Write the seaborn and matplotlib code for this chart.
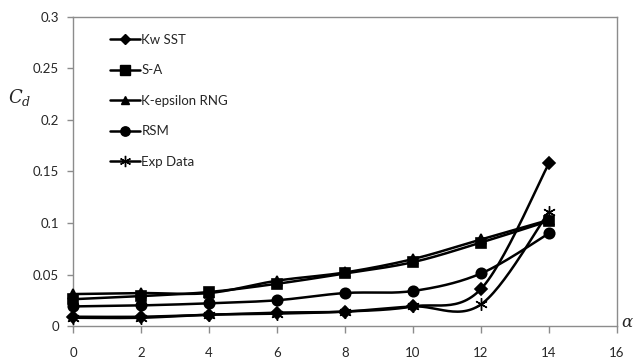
import numpy as np
import pandas as pd
import matplotlib
matplotlib.use("Agg")
import matplotlib.pyplot as plt
import seaborn as sns
from matplotlib.ticker import FuncFormatter, MultipleLocator

# Drag coefficient vs. position for each turbulence model and experiment
x_vals = [0, 2, 4, 6, 8, 10, 12, 14]
kw_sst = [0.009, 0.009, 0.011, 0.013, 0.014, 0.019, 0.036, 0.158]
s_a = [0.026, 0.029, 0.033, 0.041, 0.051, 0.062, 0.081, 0.102]
k_eps_rng = [0.031, 0.032, 0.032, 0.044, 0.052, 0.065, 0.084, 0.103]
rsm = [0.019, 0.020, 0.022, 0.025, 0.032, 0.034, 0.051, 0.090]
exp_data = [0.008, 0.008, 0.011, 0.012, 0.014, 0.019, 0.021, 0.111]

series_names = ["Kw SST", "S-A", "K-epsilon RNG", "RSM", "Exp Data"]
series_vals = [kw_sst, s_a, k_eps_rng, rsm, exp_data]
markers = ["D", "s", "^", "o", (6, 2, 0)]
marker_sizes = [6, 7.5, 7, 7.5, 9]

sns.set_style("white")
plt.rcParams["font.family"] = ["Lato", "DejaVu Sans"]
plt.rcParams["mathtext.fontset"] = "dejavuserif"


def smooth(xs, ys, n=30):
    """Catmull-Rom style Bezier smoothing through the points."""
    xs = np.asarray(xs, float)
    ys = np.asarray(ys, float)
    px = np.concatenate([[xs[0]], xs, [xs[-1]]])
    py = np.concatenate([[ys[0]], ys, [ys[-1]]])
    outx, outy = [], []
    t = np.linspace(0, 1, n)
    for i in range(1, len(px) - 2):
        p0 = np.array([px[i], py[i]])
        p3 = np.array([px[i + 1], py[i + 1]])
        c1 = p0 + (np.array([px[i + 1], py[i + 1]]) - np.array([px[i - 1], py[i - 1]])) / 6
        c2 = p3 - (np.array([px[i + 2], py[i + 2]]) - np.array([px[i], py[i]])) / 6
        b = ((1 - t) ** 3)[:, None] * p0 + (3 * (1 - t) ** 2 * t)[:, None] * c1 \
            + (3 * (1 - t) * t ** 2)[:, None] * c2 + (t ** 3)[:, None] * p3
        outx.extend(b[:, 0])
        outy.extend(b[:, 1])
    return np.array(outx), np.array(outy)


fig = plt.figure(figsize=(6.35, 3.61), dpi=100)
ax = fig.add_axes([73 / 635, 1 - 326 / 361, (617 - 73) / 635, (326 - 17) / 361])

for name, vals, mk, ms in zip(series_names, series_vals, markers, marker_sizes):
    sx, sy = smooth(x_vals, vals)
    curve = pd.DataFrame({"x": sx, "y": sy})
    sns.lineplot(data=curve, x="x", y="y", ax=ax, color="black", lw=1.8,
                 sort=False, estimator=None, legend=False)
    pts = pd.DataFrame({"x": x_vals, "y": vals})
    ax.plot(pts["x"], pts["y"], linestyle="none", marker=mk, markersize=ms,
            color="black", markeredgewidth=1.2 if mk != markers[-1] else 1.0,
            clip_on=False, zorder=3)

# Legend handles: line with a single centred marker
handles = [plt.Line2D([], [], color="black", lw=1.8, marker=mk, markersize=ms * 0.9)
           for mk, ms in zip(markers, marker_sizes)]
leg = ax.legend(handles, series_names, loc="upper left", bbox_to_anchor=(0.058, 0.962),
                frameon=False, fontsize=9.5, labelspacing=1.4, handlelength=2.3,
                handletextpad=0.1, borderaxespad=0, numpoints=1)

ax.set_xlim(0, 16)
ax.set_ylim(0, 0.3)
ax.xaxis.set_major_locator(MultipleLocator(2))
ax.yaxis.set_major_locator(MultipleLocator(0.05))
ax.yaxis.set_major_formatter(FuncFormatter(lambda v, p: f"{v:g}"))
ax.set_xlabel("")
ax.set_ylabel("")

for sp in ax.spines.values():
    sp.set_color("#8c8c8c")
    sp.set_linewidth(1.0)
ax.tick_params(axis="x", direction="out", length=5, width=1, color="#8c8c8c",
               pad=10, labelsize=9.5, bottom=True)
ax.tick_params(axis="y", direction="out", length=4, width=1, color="#8c8c8c",
               pad=6, labelsize=9.5, left=True)

fig.text(20 / 635, 1 - 97 / 361, r"$C_d$", fontsize=13, ha="center", va="center")
fig.text(621 / 635, 1 - 322 / 361, r"$\alpha$", fontsize=12, ha="left", va="center")

fig.savefig("out.png", dpi=100)
